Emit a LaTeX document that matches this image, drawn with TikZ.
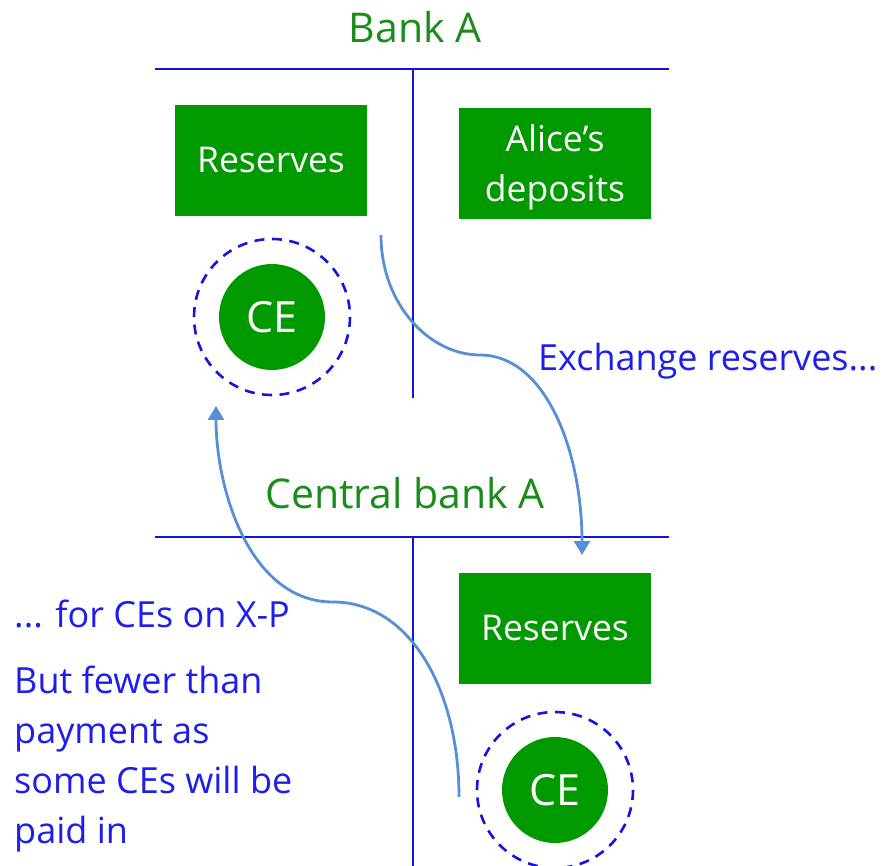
\documentclass[tikz,border=0pt]{standalone}
\usepackage{fontspec}
\setmainfont{Open Sans}
\usepackage{tikz}
\usetikzlibrary{
    calc,
    positioning,
    arrows.meta
}
\definecolor{boxgreen}{RGB}{0,153,0}
\definecolor{titlegreen}{RGB}{25,140,25}
\definecolor{textblue}{RGB}{30,30,235}
\definecolor{lineblue}{RGB}{20,20,225}
\definecolor{flowblue}{RGB}{88,142,214}
\tikzset{
    % T-account lines:
    ledger/.style = {
        draw = lineblue,
        line width = 2pt
    },
    % Account heading:
    heading/.style = {
        text = titlegreen,
        font = \fontsize{41}{48}\selectfont
    },
    % Balance-sheet item:
    item node/.style = {
        rectangle,
        fill = boxgreen,
        text = white,
        minimum width = 192pt,
        minimum height = 111pt,
        align = center,
        font = \fontsize{35.5}{50}\selectfont
    },
    % Coin:
    coin node/.style = {
        circle,
        fill = boxgreen,
        text = white,
        minimum size = 106pt,
        inner sep = 0pt,
        font = \fontsize{43}{48}\selectfont
    },
    % Dashed ring:
    ring/.style = {
        draw = lineblue,
        dash pattern = on 10pt off 7.5pt,
        line width = 2.6pt
    },
    % Flow arrow:
    flow/.style = {
        draw = flowblue,
        line width = 2.8pt,
        -{Triangle[length=14pt, width=16pt]}
    },
    % Notes:
    note/.style = {
        text = textblue,
        anchor = west,
        inner sep = 0pt,
        font = \fontsize{36}{50}\selectfont
    }
}

\begin{document}
\begin{tikzpicture}[x=1pt, y=-1pt]
    \useasboundingbox (0, 0) rectangle (889, 866);
    % Bank A:
    \node [heading] (bankA) at (415, 27) {Bank A};
    \draw [ledger] (155, 69) -- (669, 69);
    \draw [ledger] (413, 69) -- (413, 398);
    \node [item node] (bankRes) at (271, 160.5) {Reserves};
    \node [item node, text depth = 0pt] (alice) at (555, 163.5) {Alice’s\\deposits};
    \node [coin node] (bankCE) at (272, 317) {CE};
    \draw [ring] (bankCE) circle (78);
    % Central bank A:
    \node [heading] (cbA) at (405, 493) {Central bank A};
    \draw [ledger] (155, 537) -- (669, 537);
    \draw [ledger] (413, 537) -- (413, 866);
    \node [item node] (cbRes) at (555, 628.5) {Reserves};
    \node [coin node] (cbCE) at (555, 790) {CE};
    \draw [ring] (cbCE) circle (78);
    % Flows:
    \coordinate (outA) at (381, 235);
    \coordinate (midA) at (480, 355);
    \coordinate (inA) at (582, 555);
    \draw [flow] (outA)
        .. controls (381, 305) and (430, 355) .. (midA)
        .. controls (545, 355) and (582, 450) .. (inA);
    \coordinate (outB) at (459, 797);
    \coordinate (midB) at (333, 602);
    \coordinate (inB) at (216, 406);
    \draw [flow] (outB)
        .. controls (459, 690) and (410, 602) .. (midB)
        .. controls (250, 602) and (216, 490) .. (inB);
    % Notes:
    \node [note] (exch) at (538, 361) {Exchange reserves...};
    \node [note] (forCE) at (14, 614) {... for CEs on X-P};
    \node [note, anchor = north west, align = left] (fewer) at (14, 666)
        {But fewer than\\payment as\\some CEs will be\\paid in};
\end{tikzpicture}
\end{document}
